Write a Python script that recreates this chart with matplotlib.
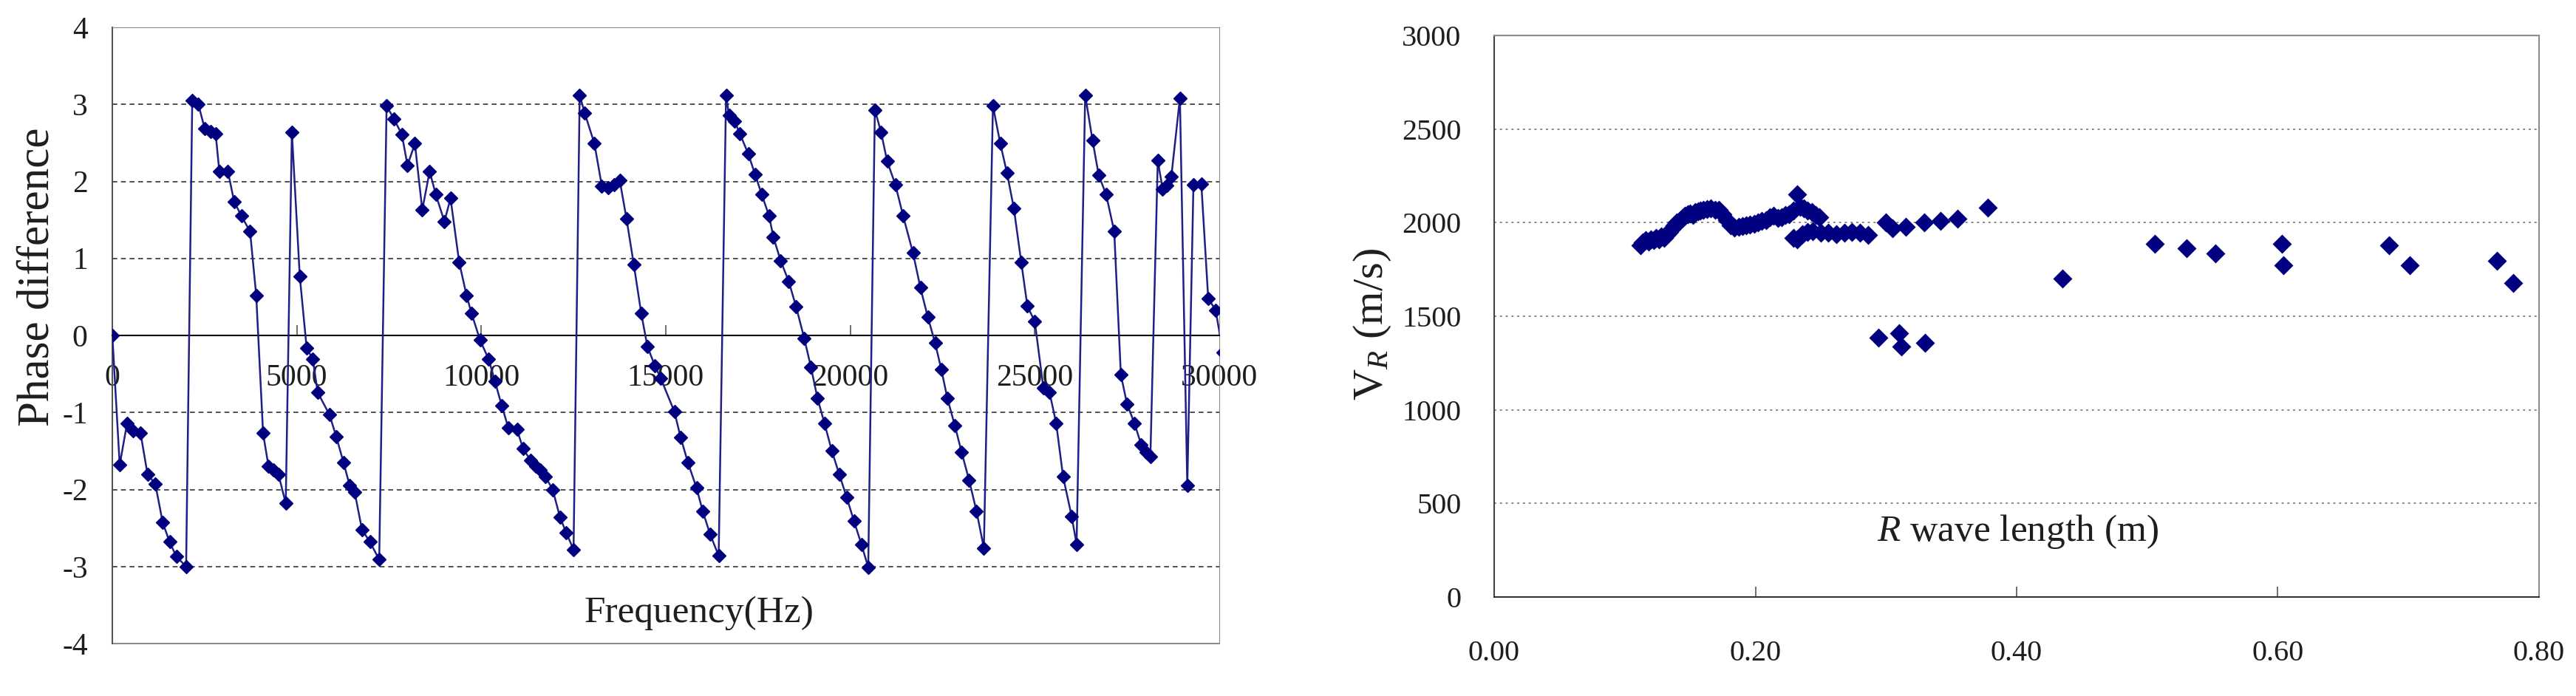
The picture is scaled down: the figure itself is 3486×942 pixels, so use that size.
import numpy as np
import matplotlib
matplotlib.use('Agg')
from matplotlib import pyplot as plt

plt.rcParams['font.family'] = ['Liberation Serif', 'DejaVu Serif']
plt.rcParams['mathtext.fontset'] = 'custom'
plt.rcParams['mathtext.rm'] = 'Liberation Serif'
plt.rcParams['mathtext.it'] = 'Liberation Serif:italic'

# left panel: phase difference vs frequency
freq = [0, 200, 400, 566, 766, 953, 1166, 1366, 1553, 1733, 2000,
        2166, 2333, 2500, 2666, 2800, 2900, 3133, 3300, 3500, 3733, 3900,
        4086, 4233, 4366, 4500, 4700, 4866, 5080, 5266, 5433, 5566, 5886,
        6066, 6266, 6433, 6566, 6766, 6980, 7233,
        7433, 7633, 7846, 8000, 8200, 8400, 8600, 8766, 9000, 9166, 9400,
        9600, 9733, 9966, 10200, 10366, 10553, 10733, 10966, 11133, 11333,
        11466, 11600, 11733, 11933, 12133, 12300, 12500,
        12666, 12800, 13066, 13266, 13433, 13600, 13753, 13933, 14133,
        14333, 14500, 14700, 14866, 15233, 15400, 15600, 15833, 16000,
        16200, 16433,
        16633, 16713, 16866, 17006, 17233, 17420, 17600, 17800, 17913,
        18113, 18333, 18533, 18753, 18933, 19113, 19300, 19500, 19700,
        19900, 20100, 20300, 20486,
        20666, 20833, 21000, 21220, 21433, 21700, 21900, 22100, 22300,
        22466, 22633, 22833, 23020, 23220, 23420, 23620,
        23866, 24066, 24246, 24433, 24633, 24800, 25000, 25233, 25400,
        25580, 25766, 26000, 26133,
        26366, 26566, 26733, 26933, 27153, 27333, 27500, 27700, 27886,
        28020, 28133, 28333, 28466, 28580, 28700, 28933, 29133, 29300,
        29513, 29700, 29900, 30100]
phase = [0.0, -1.68, -1.14, -1.24, -1.27, -1.80, -1.93, -2.43, -2.68, -2.87, -3.00,
         3.05, 3.00, 2.69, 2.65, 2.62, 2.13, 2.13, 1.74, 1.55, 1.35, 0.52,
         -1.27, -1.70, -1.75, -1.80, -2.18, 2.64, 0.77, -0.16, -0.31, -0.74, -1.03,
         -1.31, -1.65, -1.95, -2.03, -2.52, -2.68, -2.91,
         2.98, 2.81, 2.61, 2.21, 2.49, 1.63, 2.13, 1.83, 1.48, 1.78, 0.95,
         0.52, 0.29, -0.06, -0.31, -0.59, -0.91, -1.20, -1.22, -1.47, -1.62,
         -1.70, -1.75, -1.83, -2.00, -2.36, -2.56, -2.78,
         3.12, 2.89, 2.49, 1.94, 1.92, 1.96, 2.01, 1.52, 0.92,
         0.29, -0.14, -0.39, -0.56, -0.99, -1.32, -1.65, -1.98, -2.28,
         -2.58, -2.86,
         3.12, 2.86, 2.78, 2.62, 2.36, 2.09, 1.83, 1.55, 1.28,
         0.97, 0.70, 0.37, -0.04, -0.41, -0.82, -1.14, -1.50, -1.80,
         -2.10, -2.41, -2.71, -3.01,
         2.93, 2.64, 2.26, 1.96, 1.55, 1.07, 0.62, 0.24, -0.10,
         -0.44, -0.82, -1.17, -1.52, -1.88, -2.28, -2.76,
         2.98, 2.49, 2.11, 1.65, 0.95, 0.38, 0.18, -0.68, -0.74,
         -1.14, -1.83, -2.35, -2.71,
         3.12, 2.53, 2.08, 1.83, 1.35, -0.51, -0.89, -1.14, -1.42,
         -1.52, -1.57, 2.27, 1.90, 1.95, 2.06, 3.08, -1.95, 1.96,
         1.97, 0.48, 0.33, -0.22]
freq_ticks = [0, 5000, 10000, 15000, 20000, 25000, 30000]
phase_ticks = [-4, -3, -2, -1, 0, 1, 2, 3, 4]

# right panel: R-wave velocity vs wave length
wave_len = [0.112, 0.114, 0.116, 0.118, 0.120, 0.122, 0.124, 0.126, 0.128, 0.130,
            0.132, 0.134, 0.136, 0.138, 0.140, 0.142, 0.144, 0.146, 0.148, 0.150,
            0.152, 0.154, 0.156, 0.158, 0.160, 0.163, 0.166, 0.169, 0.172, 0.175,
            0.178, 0.181, 0.184, 0.187, 0.190, 0.193, 0.196, 0.199, 0.202, 0.205,
            0.208, 0.211, 0.214, 0.217, 0.220, 0.223, 0.226, 0.229, 0.232, 0.234,
            0.237, 0.240, 0.243, 0.246, 0.249,
            0.229, 0.232, 0.236, 0.240, 0.244, 0.250, 0.256, 0.262, 0.268, 0.274,
            0.280, 0.286,
            0.300, 0.305, 0.315, 0.329, 0.342, 0.355, 0.378,
            0.294, 0.310, 0.312, 0.330,
            0.435, 0.506, 0.530, 0.552, 0.603, 0.604, 0.685, 0.701, 0.768, 0.780]
vel = [1880, 1895, 1905, 1900, 1912, 1905, 1918, 1912, 1925, 1920,
       1935, 1950, 1965, 1985, 2000, 2010, 2025, 2035, 2045, 2050,
       2040, 2055, 2060, 2065, 2070, 2072, 2075, 2070, 2068, 2045,
       2015, 1985, 1975, 1978, 1982, 1985, 1990, 1995, 2000, 2008,
       2015, 2030, 2035, 2025, 2030, 2040, 2045, 2065, 2150, 2085,
       2075, 2065, 2055, 2040, 2030,
       1920, 1910, 1940, 1950, 1955, 1948, 1945, 1940, 1945, 1950,
       1945, 1935,
       2000, 1968, 1978, 2000, 2008, 2020, 2082,
       1386, 1408, 1340, 1358,
       1702, 1886, 1862, 1835, 1886, 1772, 1880, 1772, 1796, 1676]
len_ticks = [0.0, 0.2, 0.4, 0.6, 0.8]
vel_ticks = [0, 500, 1000, 1500, 2000, 2500, 3000]

navy = '#000080'
frame = '#8c8c8c'
txt = '#1e1e1e'

W, H = 3486, 942
fig = plt.figure(figsize=(W / 100, H / 100), dpi=100)

# ---------------- left ----------------
ax1 = fig.add_axes([152 / W, 1 - 871 / H, 1498 / W, 834 / H])
ax1.set_xlim(0, 30000)
ax1.set_ylim(-4, 4)
for v in [-3, -2, -1, 1, 2, 3]:
    ax1.axhline(v, color='#333333', lw=1.2, ls=(0, (4, 3)), zorder=1)
ax1.plot(freq, phase, color='#1f1f86', lw=1.8, marker='D', ms=9.5,
         mfc=navy, mec=navy, zorder=3)
for s in ['top', 'right']:
    ax1.spines[s].set_color(frame)
ax1.spines['left'].set_color('#555555')
ax1.spines['left'].set_linewidth(1.5)
ax1.spines['bottom'].set_position(('data', 0))
ax1.spines['bottom'].set_color('black')
ax1.spines['bottom'].set_linewidth(1.5)
ax1.axhline(-4, color=frame, lw=1.5, clip_on=False)
ax1.set_xticks(freq_ticks)
ax1.set_xticklabels([str(t) for t in freq_ticks])
ax1.set_yticks(phase_ticks)
ax1.set_yticklabels([str(t) for t in phase_ticks])
ax1.tick_params(axis='x', direction='in', length=10, width=1.2, pad=28,
                labelsize=30, labelcolor=txt, color='#555555')
ax1.tick_params(axis='y', length=0, pad=24, labelsize=30, labelcolor=txt)
ax1.set_ylabel('Phase difference', fontsize=44, color=txt)
ax1.yaxis.set_label_coords(-0.049, 0.595)
ax1.text(15900, -3.6, 'Frequency(Hz)', fontsize=37, color=txt,
         ha='center', va='center')

# ---------------- right ----------------
ax2 = fig.add_axes([2022 / W, 1 - 808 / H, 1414 / W, 760 / H])
ax2.set_xlim(0, 0.8)
ax2.set_ylim(0, 3000)
for v in vel_ticks[1:-1]:
    ax2.axhline(v, color='#888888', lw=1.4, ls=(0, (1.5, 2.5)), zorder=1)
ax2.scatter(wave_len, vel, marker='D', s=175, color=navy, zorder=3, linewidths=0)
for s in ['top', 'right']:
    ax2.spines[s].set_color(frame)
ax2.spines['left'].set_color('#444444')
ax2.spines['bottom'].set_color('#333333')
for s in ax2.spines.values():
    s.set_linewidth(1.5)
ax2.set_xticks(len_ticks)
ax2.set_xticklabels(['%.2f' % t for t in len_ticks])
ax2.set_yticks(vel_ticks)
ax2.set_yticklabels([str(t) for t in vel_ticks])
ax2.tick_params(axis='x', direction='in', length=10, width=1.2, pad=42,
                labelsize=29, labelcolor=txt, color='#555555')
ax2.tick_params(axis='y', length=0, pad=32, labelsize=29, labelcolor=txt)
ax2.set_ylabel(r'$\mathrm{V}_{R}$ (m/s)', fontsize=42, color=txt)
ax2.yaxis.set_label_coords(-0.097, 0.486)
ax2.text(0.401, 350, r'$R$ wave length (m)', fontsize=37, color=txt,
         ha='center', va='center')

fig.savefig('out.png', dpi=100, facecolor='white')
